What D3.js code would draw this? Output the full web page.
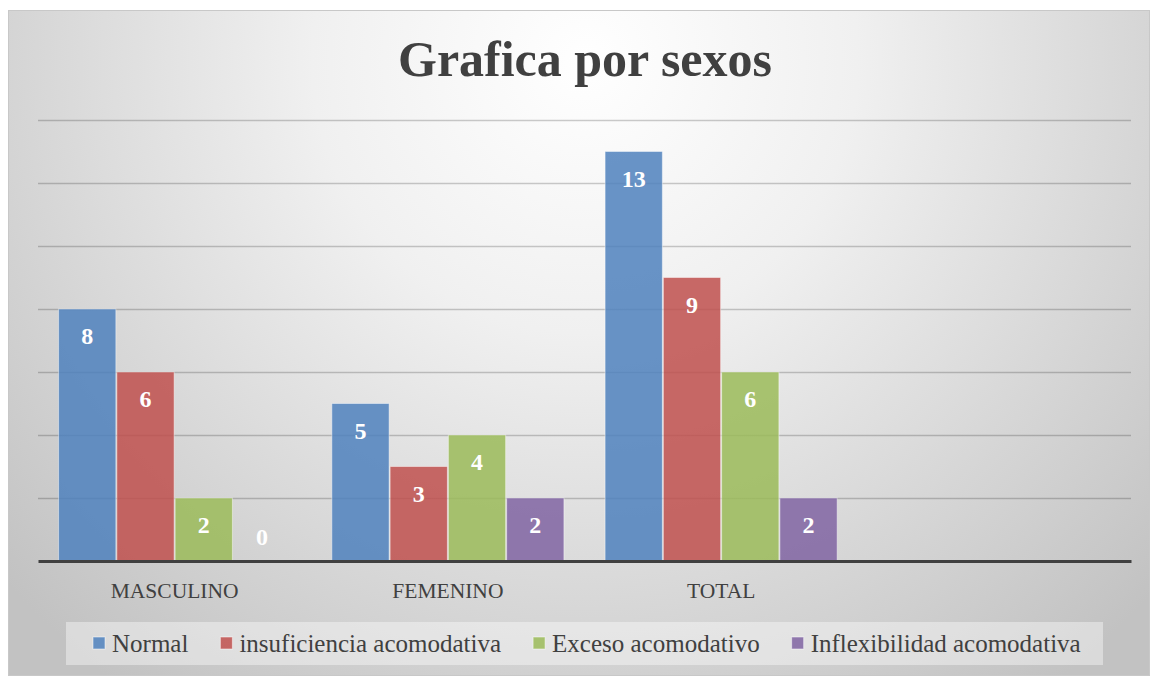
<!DOCTYPE html>
<html>
<head>
<meta charset="utf-8">
<script src="https://cdn.jsdelivr.net/npm/d3@7"></script>
<style>
  html, body { margin: 0; padding: 0; background: #fff; }
  #chart { width: 1151px; height: 676px; }
  text { font-family: "Liberation Serif", "DejaVu Serif", serif; }
</style>
</head>
<body>
<div id="chart"></div>
<script>
const categories = ['MASCULINO', 'FEMENINO', 'TOTAL', ''];
const seriesNames = ['Normal', 'insuficiencia acomodativa', 'Exceso acomodativo', 'Inflexibilidad acomodativa'];
const normal = [8, 5, 13];
const insuficiencia = [6, 3, 9];
const exceso = [2, 4, 6];
const inflexibilidad = [0, 2, 2];
const yTicks = [0, 2, 4, 6, 8, 10, 12, 14];
const colors = ['#4f81bd', '#c0504d', '#9bbb59', '#8064a2'];

const width = 1151;
const height = 676;

document.addEventListener('DOMContentLoaded', () => {
    createBarChart();
});

function createBarChart(){
    const svg = d3.select('#chart')
        .append('svg')
        .attr('width', width)
        .attr('height', height);

    // background gradient like the office chart style
    const defs = svg.append('defs');
    const grad = defs.append('radialGradient')
        .attr('id', 'bg')
        .attr('gradientUnits', 'userSpaceOnUse')
        .attr('cx', 585).attr('cy', 60)
        .attr('r', 780);
    grad.append('stop').attr('offset', '0%').attr('stop-color', '#ffffff');
    grad.append('stop').attr('offset', '35%').attr('stop-color', '#f0f0f0');
    grad.append('stop').attr('offset', '100%').attr('stop-color', '#c2c2c2');

    svg.append('rect')
        .attr('x', 8.5).attr('y', 10.5)
        .attr('width', 1141).attr('height', 665)
        .attr('fill', 'url(#bg)')
        .attr('stroke', '#c8c8c8')
        .attr('stroke-width', 1);

    const area = { left: 38, right: 1131, top: 120, bottom: 561 };

    const x0 = d3.scaleBand()
        .domain(categories)
        .range([area.left, area.right])
        .paddingInner(0.147)
        .paddingOuter(0.0735);

    const x1 = d3.scaleBand()
        .domain(seriesNames)
        .range([0, x0.bandwidth()])
        .padding(0);

    const y = d3.scaleLinear()
        .domain([0, 14])
        .range([area.bottom, area.top]);

    // gridlines
    const yGrid = d3.axisLeft(y)
        .tickValues(yTicks.slice(1))
        .tickSize(-(area.right - area.left))
        .tickFormat('');
    const gridG = svg.append('g')
        .attr('transform', `translate(${area.left}, 0)`)
        .call(yGrid);
    gridG.select('.domain').remove();
    gridG.selectAll('line')
        .attr('stroke', '#000')
        .attr('stroke-opacity', 0.2)
        .attr('stroke-width', 1.5);

    // bars
    const seriesValues = [normal, insuficiencia, exceso, inflexibilidad];
    const rows = [];
    seriesValues.forEach((vals, si) => {
        vals.forEach((v, ci) => {
            rows.push({ cat: categories[ci], series: seriesNames[si], color: colors[si], value: v });
        });
    });

    svg.append('g')
        .selectAll('rect')
        .data(rows)
        .join('rect')
        .attr('x', d => x0(d.cat) + x1(d.series) + 0.5)
        .attr('y', d => y(d.value))
        .attr('width', x1.bandwidth() - 1)
        .attr('height', d => y(0) - y(d.value))
        .attr('fill', d => d.color)
        .attr('fill-opacity', 0.85)
        .attr('stroke', '#ffffff')
        .attr('stroke-opacity', 0.45)
        .attr('stroke-width', 1);

    // axis line
    const xAxis = d3.axisBottom(x0).tickSize(0).tickPadding(22);
    const axisG = svg.append('g')
        .attr('transform', `translate(0, ${area.bottom})`)
        .call(xAxis);
    axisG.select('.domain')
        .attr('stroke', '#404040')
        .attr('stroke-width', 3);
    axisG.selectAll('text')
        .attr('fill', '#404040')
        .style('font-family', '"Liberation Serif", serif')
        .style('font-size', '21.5px');

    // data labels
    svg.append('g')
        .selectAll('text')
        .data(rows)
        .join('text')
        .attr('x', d => x0(d.cat) + x1(d.series) + x1.bandwidth() / 2)
        .attr('y', d => d.value > 0 ? y(d.value) + 35 : y(0) - 16)
        .attr('text-anchor', 'middle')
        .attr('fill', '#ffffff')
        .style('font-size', '24px')
        .style('font-weight', 'bold')
        .text(d => d.value);

    // title
    svg.append('text')
        .attr('x', 585)
        .attr('y', 76)
        .attr('text-anchor', 'middle')
        .attr('fill', '#404040')
        .style('font-size', '50px')
        .style('font-weight', 'bold')
        .text('Grafica por sexos');

    // legend
    svg.append('rect')
        .attr('x', 66).attr('y', 622)
        .attr('width', 1037).attr('height', 43)
        .attr('fill', '#ffffff')
        .attr('fill-opacity', 0.4);

    const legend = svg.append('g');
    let lx = 93;
    seriesNames.forEach((name, i) => {
        legend.append('rect')
            .attr('x', lx).attr('y', 637)
            .attr('width', 12).attr('height', 12)
            .attr('fill', colors[i])
            .attr('fill-opacity', 0.85)
            .attr('stroke', '#fff')
            .attr('stroke-opacity', 0.5);
        const t = legend.append('text')
            .attr('x', lx + 19)
            .attr('y', 652)
            .attr('fill', '#404040')
            .style('font-size', '25px')
            .text(name);
        lx += 19 + t.node().getComputedTextLength() + 32;
    });
}
</script>
</body>
</html>
